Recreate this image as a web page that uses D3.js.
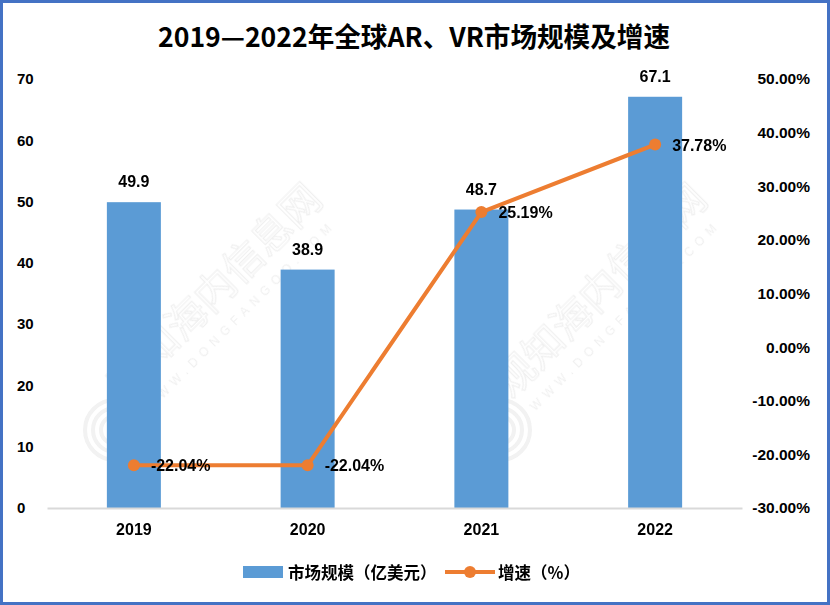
<!DOCTYPE html>
<html><head><meta charset="utf-8">
<script src="https://cdn.jsdelivr.net/npm/d3@7"></script>
<style>body{margin:0;background:#fff}svg{display:block}</style>
</head><body>
<script>
const years = ["2019","2020","2021","2022"];
const marketSize = [49.9, 38.9, 48.7, 67.1];
const growth = [-22.04, -22.04, 25.19, 37.78];
const leftTicks = [0,10,20,30,40,50,60,70];
const rightTicks = [-30,-20,-10,0,10,20,30,40,50];
const title = "2019—2022年全球AR、VR市场规模及增速";
const legendLabels = ["市场规模（亿美元）","增速（%）"];

const W=830,H=605;
const blue="#5B9BD5", orange="#ED7D31";
const svg=d3.select("body").append("svg").attr("width",W).attr("height",H);
svg.append("rect").attr("x",1.5).attr("y",1.5).attr("width",W-3).attr("height",H-3)
  .attr("fill","#fff").attr("stroke","#4472C4").attr("stroke-width",3);

const m={l:47,r:742,t:79,b:508};
const x=d3.scaleBand().domain(years).range([m.l,m.r]).paddingInner(0).paddingOuter(0);
const yL=d3.scaleLinear().domain([0,70]).range([m.b,m.t]);
const yR=d3.scaleLinear().domain([-30,50]).range([m.b,m.t]);
const font="'Liberation Sans', Arial, sans-serif";

// watermarks
const wm=svg.append("g").attr("opacity",0.1).attr("fill","#888");
[[225,300],[610,300]].forEach(([cx,cy])=>{
  const g=wm.append("g").attr("transform",`translate(${cx},${cy}) rotate(-45)`);
  g.append("text").attr("text-anchor","middle").attr("font-family","'Noto Sans CJK SC'")
   .attr("font-size",40).attr("fill","none").attr("stroke","#666").attr("stroke-width",1.2).text("观知海内信息网");
  g.append("text").attr("text-anchor","middle").attr("y",26).attr("font-family",font)
   .attr("font-size",12).attr("letter-spacing",6).attr("fill","#666").text("WWW.DONGFANGOO.COM");
});
[[115,430],[500,430]].forEach(([cx,cy])=>{
  [30,22,14].forEach(r=>wm.append("circle").attr("cx",cx).attr("cy",cy).attr("r",r)
    .attr("fill","none").attr("stroke","#777").attr("stroke-width",4));
});

// title
svg.append("text").attr("x",414).attr("y",47).attr("text-anchor","middle")
  .attr("font-family","'Noto Sans CJK SC'").attr("font-weight","bold").attr("font-size",27)
  .attr("textLength",512).attr("lengthAdjust","spacingAndGlyphs").attr("fill","#000").text(title);

// left axis labels
const axL=svg.append("g").attr("transform",`translate(17,0)`)
  .call(d3.axisLeft(yL).tickValues(leftTicks).tickSize(0).tickPadding(0));
axL.select(".domain").remove();
axL.selectAll("text").attr("text-anchor","start").attr("font-family",font).attr("font-weight","bold")
  .attr("font-size",15).attr("fill","#000");

// right axis labels
const axR=svg.append("g").attr("transform",`translate(810,0)`)
  .call(d3.axisLeft(yR).tickValues(rightTicks).tickSize(0).tickPadding(0).tickFormat(d=>d.toFixed(2)+"%"));
axR.select(".domain").remove();
axR.selectAll("text").attr("text-anchor","end").attr("font-family",font).attr("font-weight","bold")
  .attr("font-size",15.5).attr("fill","#000");

// bars
const bw=54;
svg.selectAll("rect.bar").data(years).enter().append("rect").attr("class","bar")
  .attr("x",d=>x(d)+x.bandwidth()/2-bw/2).attr("width",bw)
  .attr("y",(d,i)=>yL(marketSize[i])).attr("height",(d,i)=>yL(0)-yL(marketSize[i]))
  .attr("fill",blue);
svg.selectAll("text.bl").data(years).enter().append("text").attr("class","bl")
  .attr("x",d=>x(d)+x.bandwidth()/2).attr("y",(d,i)=>yL(marketSize[i])-15)
  .attr("text-anchor","middle").attr("font-family",font).attr("font-weight","bold").attr("font-size",16)
  .text((d,i)=>marketSize[i].toFixed(1));

// x axis
const axX=svg.append("g").attr("transform",`translate(0,${m.b})`)
  .call(d3.axisBottom(x).tickSize(0).tickPadding(16));
axX.select(".domain").attr("stroke","#D9D9D9").attr("stroke-width",2);
axX.selectAll("text").attr("font-family",font).attr("font-weight","bold").attr("font-size",16).attr("fill","#000");

// line
const cx=d=>x(d)+x.bandwidth()/2;
const line=d3.line().x((d,i)=>cx(years[i])).y(d=>yR(d));
svg.append("path").datum(growth).attr("d",line).attr("fill","none").attr("stroke",orange)
  .attr("stroke-width",4).attr("stroke-linejoin","round");
svg.selectAll("circle.pt").data(growth).enter().append("circle").attr("class","pt")
  .attr("cx",(d,i)=>cx(years[i])).attr("cy",d=>yR(d)).attr("r",6).attr("fill",orange);
svg.selectAll("text.gl").data(growth).enter().append("text").attr("class","gl")
  .attr("x",(d,i)=>cx(years[i])+17).attr("y",d=>yR(d)+6)
  .attr("font-family",font).attr("font-weight","bold").attr("font-size",16)
  .text(d=>d.toFixed(2)+"%");

// legend
const lg=svg.append("g");
lg.append("rect").attr("x",243).attr("y",566).attr("width",40).attr("height",12).attr("fill",blue);
lg.append("text").attr("x",288).attr("y",579).attr("font-family","'Noto Sans CJK SC'").attr("font-weight","bold")
  .attr("font-size",16.5).text(legendLabels[0]);
lg.append("line").attr("x1",445).attr("x2",495).attr("y1",572).attr("y2",572).attr("stroke",orange).attr("stroke-width",4);
lg.append("circle").attr("cx",470).attr("cy",572).attr("r",6).attr("fill",orange);
lg.append("text").attr("x",498).attr("y",579).attr("font-family","'Noto Sans CJK SC'").attr("font-weight","bold")
  .attr("font-size",16.5).text(legendLabels[1]);
</script>
</body></html>
